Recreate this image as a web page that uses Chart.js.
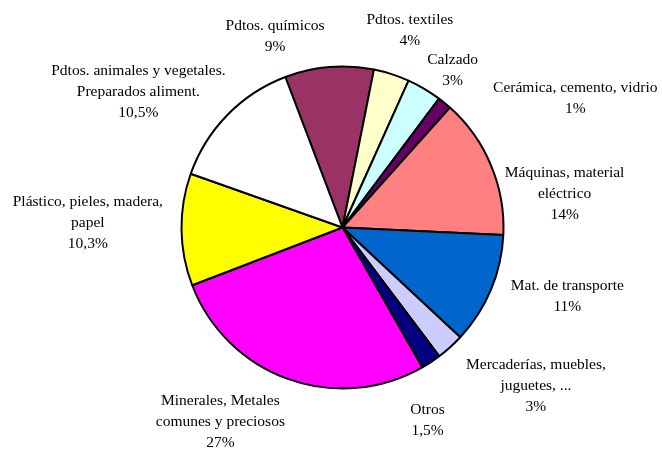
<!DOCTYPE html>
<html>
<head>
<meta charset="utf-8">
<script src="https://cdn.jsdelivr.net/npm/chart.js@4.4.0/dist/chart.umd.min.js"></script>
<style>
    body { margin: 0; background: #ffffff; }
    canvas { display: block; }
</style>
</head>
<body>
<canvas id="myChart" width="662" height="450"></canvas>
<script>
// categorias (en sentido horario, empezando por Pdtos. químicos)
const categories = [
    "Pdtos. químicos",
    "Pdtos. textiles",
    "Calzado",
    "Cerámica, cemento, vidrio",
    "Máquinas, material eléctrico",
    "Mat. de transporte",
    "Mercaderías, muebles, juguetes, ...",
    "Otros",
    "Minerales, Metales comunes y preciosos",
    "Plástico, pieles, madera, papel",
    "Pdtos. animales y vegetales. Preparados aliment.",
]

// tamaño de cada porción
const sliceValues = [8.9, 3.6, 3.5, 1.4, 14.1, 11.2, 2.8, 2.0, 27.4, 11.25, 13.8]

// textos de las etiquetas tal como aparecen
const labelLines = [
    ["Pdtos. químicos", "9%"],
    ["Pdtos. textiles", "4%"],
    ["Calzado", "3%"],
    ["Cerámica, cemento, vidrio", "1%"],
    ["Máquinas, material", "eléctrico", "14%"],
    ["Mat. de transporte", "11%"],
    ["Mercaderías, muebles,", "juguetes, ...", "3%"],
    ["Otros", "1,5%"],
    ["Minerales, Metales", "comunes y preciosos", "27%"],
    ["Plástico, pieles, madera,", "papel", "10,3%"],
    ["Pdtos. animales y vegetales.", "Preparados aliment.", "10,5%"],
]

const sliceColors = [
    "#993366", "#FFFFCC", "#CCFFFF", "#660066", "#FF8080", "#0066CC",
    "#CCCCFF", "#000080", "#FF00FF", "#FFFF00", "#FFFFFF",
]

// posicion de cada etiqueta respecto al centro, en radios
const labelOffsets = [
    [-0.416, -1.188], [0.416, -1.224], [0.680, -0.977], [1.437, -0.800],
    [1.371, -0.213], [1.388, 0.422], [1.194, 0.972], [0.525, 1.186],
    [-0.754, 1.196], [-1.572, -0.036], [-1.260, -0.844],
]

const pieLabels = {
    id: "pieLabels",
    afterDatasetsDraw(chart) {
        const ctx = chart.ctx
        const arc = chart.getDatasetMeta(0).data[0]
        const r = arc.outerRadius + 1
        ctx.save()
        ctx.font = "15.5px 'Liberation Serif', 'Times New Roman', serif"
        ctx.fillStyle = "#000000"
        ctx.textAlign = "center"
        ctx.textBaseline = "alphabetic"
        labelLines.forEach((lines, i) => {
            const cx = arc.x + labelOffsets[i][0] * r
            const cy = arc.y + labelOffsets[i][1] * r
            lines.forEach((line, j) => {
                const y = cy + (j - (lines.length - 1) / 2) * 21 + 5
                ctx.fillText(line, cx, y)
            })
        })
        ctx.restore()
    },
}

const canvasChart = document.getElementById("myChart").getContext("2d")

const myChart = new Chart(canvasChart, {
    type: "pie",
    data: {
        labels: categories,
        datasets: [
            {
                data: sliceValues,
                backgroundColor: sliceColors,
                borderColor: "#000000",
                borderWidth: 2,
            },
        ],
    },
    options: {
        responsive: false,
        animation: false,
        rotation: -20.8,
        radius: 161,
        layout: {
            padding: { left: 103, right: 80, top: 57, bottom: 52 },
        },
        plugins: {
            legend: { display: false },
            tooltip: { enabled: false },
        },
    },
    plugins: [pieLabels],
})
</script>
</body>
</html>
